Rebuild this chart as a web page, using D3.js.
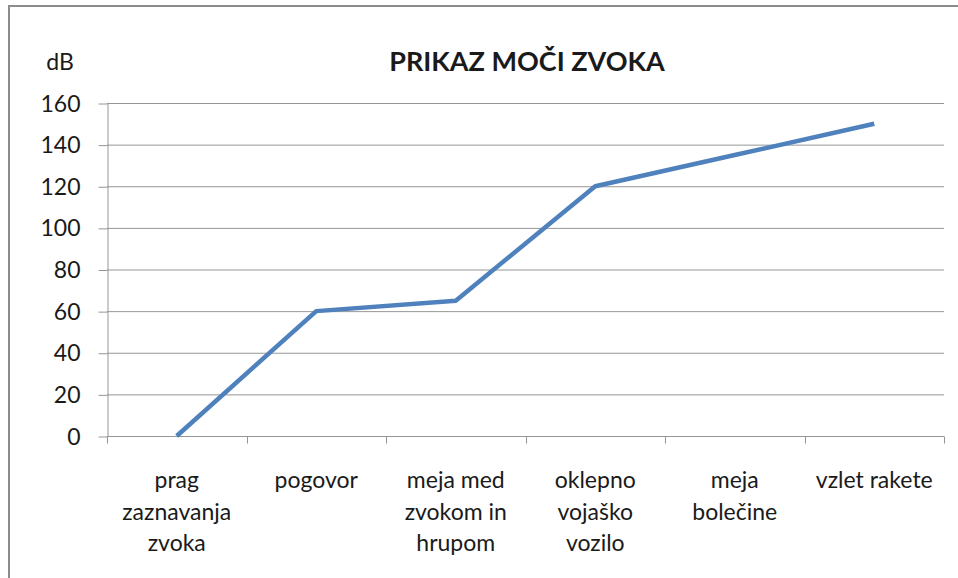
<!DOCTYPE html>
<html>
<head>
<meta charset="utf-8">
<script src="https://cdn.jsdelivr.net/npm/d3@7"></script>
<style>
  html, body { margin: 0; padding: 0; background: #fff; }
  svg { display: block; }
  text { font-family: Lato, "Open Sans", sans-serif; fill: #1a1a1a; }
</style>
</head>
<body>
<svg id="chart" width="958" height="578"></svg>
<script>
const categories = [
  "prag\nzaznavanja\nzvoka",
  "pogovor",
  "meja med\nzvokom in\nhrupom",
  "oklepno\nvojaško\nvozilo",
  "meja\nbolečine",
  "vzlet rakete"
];
const values = [0, 60, 65, 120, 135, 150];
const yTicks = [0, 20, 40, 60, 80, 100, 120, 140, 160];
const title = "PRIKAZ MOČI ZVOKA";
const yLabel = "dB";

(function () {
const svg = d3.select("#chart");
const pLeft = 107, pRight = 944, pTop = 103, pBottom = 436;
const gridColor = "#969696";

// outer frame
svg.append("rect")
  .attr("x", 9).attr("y", 6).attr("width", 1000).attr("height", 1000)
  .attr("fill", "none").attr("stroke", "#8c8c8c").attr("stroke-width", 2);

const x = d3.scaleBand().domain(d3.range(categories.length)).range([pLeft, pRight]);
const y = d3.scaleLinear().domain([0, 160]).range([pBottom, pTop]);

// gridlines
svg.append("g").selectAll("line").data(yTicks.filter(d => d > 0)).join("line")
  .attr("x1", pLeft).attr("x2", pRight)
  .attr("y1", d => y(d) + 0.5).attr("y2", d => y(d) + 0.5)
  .attr("stroke", gridColor).attr("stroke-width", 1);

// y axis
const yAxis = svg.append("g").attr("transform", `translate(${pLeft + 0.5},0)`)
  .call(d3.axisLeft(y).tickValues(yTicks).tickSize(9).tickPadding(18).tickSizeOuter(0));
yAxis.select(".domain").attr("stroke", gridColor);
yAxis.selectAll(".tick line").attr("stroke", gridColor).attr("transform", "translate(0,0.5)");
yAxis.selectAll(".tick text").attr("font-size", 23).attr("font-family", "Lato, 'Open Sans', sans-serif")
  .attr("fill", "#1a1a1a").attr("dy", "0.35em");

// x axis
const xAxisG = svg.append("g").attr("transform", `translate(0,${pBottom + 0.5})`);
xAxisG.append("line").attr("x1", pLeft).attr("x2", pRight).attr("stroke", gridColor);
const bounds = d3.range(categories.length + 1).map(i => i < categories.length ? x(i) : x(categories.length - 1) + x.bandwidth());
xAxisG.selectAll("line.tk").data(bounds).join("line").attr("class", "tk")
  .attr("x1", d => Math.round(d) + 0.5).attr("x2", d => Math.round(d) + 0.5)
  .attr("y1", 0).attr("y2", 7).attr("stroke", gridColor);

// category labels
const lab = svg.append("g").selectAll("text").data(categories).join("text")
  .attr("text-anchor", "middle")
  .attr("font-size", 23)
  .attr("x", (d, i) => x(i) + x.bandwidth() / 2)
  .attr("y", 488);
lab.each(function(d) {
  const t = d3.select(this);
  const xx = t.attr("x");
  d.split("\n").forEach((ln, k) => {
    t.append("tspan").attr("x", xx).attr("dy", k === 0 ? 0 : 31.5).text(ln);
  });
});

// line
const line = d3.line().x((d, i) => x(i) + x.bandwidth() / 2).y(d => y(d));
svg.append("path").datum(values)
  .attr("d", line)
  .attr("fill", "none")
  .attr("stroke", "#4f81bd")
  .attr("stroke-width", 4.5)
  .attr("stroke-linejoin", "round");

// title
svg.append("text").attr("x", 527).attr("y", 71).attr("text-anchor", "middle")
  .attr("font-size", 27).attr("font-weight", "bold").attr("fill", "#000").text(title);

// y label
svg.append("text").attr("x", 60).attr("y", 70).attr("text-anchor", "middle")
  .attr("font-size", 23).text(yLabel);
})();
</script>
</body>
</html>
